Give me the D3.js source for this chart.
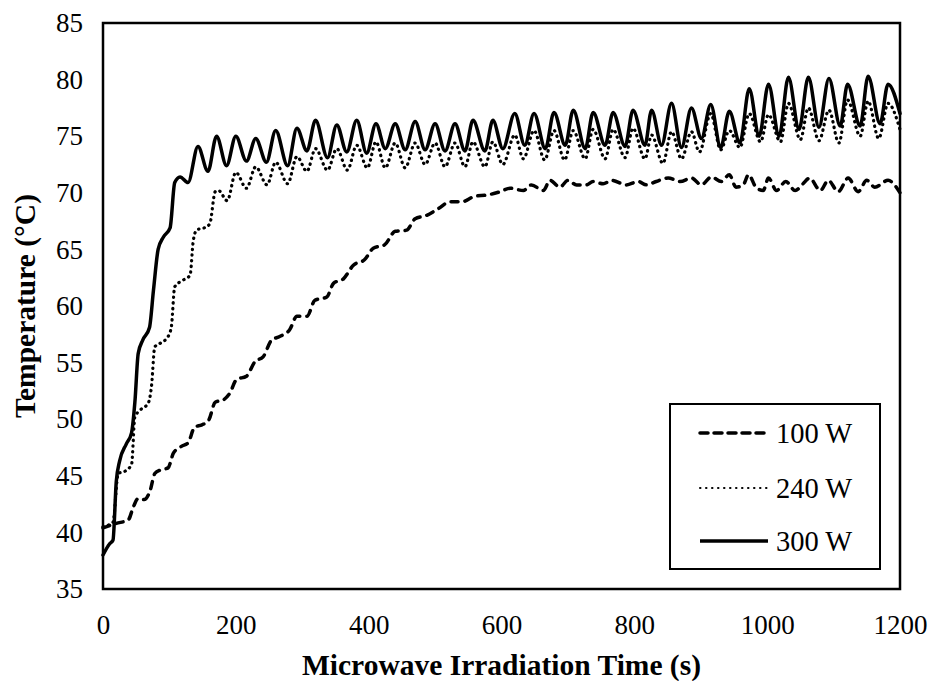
<!DOCTYPE html>
<html>
<head>
<meta charset="utf-8">
<script src="https://cdn.jsdelivr.net/npm/d3@7"></script>
<style>
  body { margin: 0; background: #fff; }
  svg text { font-family: "Liberation Serif", "Times New Roman", serif; fill: #000; }
</style>
</head>
<body>
<svg id="chart" width="931" height="681"></svg>
<script>
// temperature readings, [time (s), temperature (°C)]
const series100 = [
  [0, 40.4], [20, 40.8], [38, 41.1], [46, 42.3], [53, 43.0], [62, 42.9], [71, 43.7], [78, 45.2],
  [86, 45.5], [98, 45.7], [106, 47.0], [118, 47.6], [128, 47.9], [138, 49.3], [149, 49.5], [159, 49.9],
  [169, 51.5], [181, 51.7], [191, 52.3], [201, 53.5], [216, 53.8], [229, 55.1], [241, 55.5], [254, 57.0],
  [266, 57.3], [281, 57.9], [292, 59.1], [307, 59.1], [319, 60.5], [337, 60.8], [347, 62.0], [362, 62.4],
  [377, 63.6], [394, 64.1], [407, 65.1], [424, 65.4], [440, 66.6], [457, 66.7], [470, 67.7], [487, 68.0],
  [505, 68.6], [522, 69.2], [540, 69.2], [560, 69.7], [578, 69.8], [598, 70.1], [613, 70.4], [633, 70.2],
  [645, 70.7], [663, 70.2], [673, 71.1], [688, 70.5], [700, 71.1], [713, 70.7], [728, 70.7], [738, 71.0],
  [753, 70.8], [766, 71.1], [788, 70.7], [806, 71.0], [818, 70.7], [833, 71.0], [851, 71.3], [869, 71.0],
  [886, 71.3], [901, 70.7], [916, 71.4], [931, 71.0], [943, 71.6], [953, 70.5], [964, 70.7], [972, 71.6],
  [983, 70.5], [994, 70.2], [1002, 71.3], [1014, 70.2], [1028, 71.0], [1042, 70.2], [1054, 70.8], [1064, 71.3],
  [1080, 70.2], [1092, 71.1], [1107, 70.1], [1122, 71.3], [1137, 70.1], [1150, 71.1], [1162, 70.5], [1182, 71.1],
  [1200, 70.0]
];

const series240 = [
  [0, 40.5], [15, 40.9], [23, 45.2], [33, 45.4], [43, 46.0], [48, 50.2], [56, 50.8], [68, 51.4],
  [73, 52.9], [78, 56.4], [86, 56.7], [98, 57.3], [103, 58.2], [108, 61.7], [121, 62.3], [131, 62.7],
  [136, 65.8], [141, 66.7], [156, 67.0], [161, 67.3], [169, 70.1], [174, 70.2], [187, 69.3], [200, 71.8],
  [216, 70.4], [230, 72.3], [247, 70.7], [260, 72.7], [278, 70.8], [292, 73.2], [307, 71.9], [320, 73.9],
  [338, 72.0], [352, 73.9], [368, 72.0], [382, 74.2], [398, 72.2], [411, 74.5], [425, 72.2], [440, 74.4],
  [455, 72.2], [470, 74.4], [485, 72.5], [500, 74.4], [515, 72.3], [530, 74.4], [545, 72.3], [557, 74.5],
  [575, 72.3], [587, 74.5], [602, 72.5], [620, 75.1], [633, 73.0], [649, 75.5], [665, 72.9], [679, 75.5],
  [695, 72.9], [708, 75.5], [726, 73.0], [738, 75.6], [756, 73.0], [768, 75.6], [786, 73.1], [798, 75.7],
  [816, 73.0], [826, 75.1], [843, 72.6], [856, 75.4], [871, 73.0], [886, 75.4], [898, 73.6], [915, 77.0],
  [930, 73.8], [943, 75.5], [959, 74.0], [973, 77.0], [990, 74.5], [1002, 76.9], [1020, 74.5], [1032, 77.9],
  [1050, 74.7], [1062, 77.5], [1078, 74.6], [1093, 77.3], [1108, 74.4], [1121, 78.2], [1140, 75.0], [1152, 78.1],
  [1168, 74.8], [1182, 77.9], [1200, 75.6]
];

const series300 = [
  [0, 38.0], [10, 39.0], [15, 39.3], [20, 44.5], [25, 46.3], [35, 47.8], [43, 48.8], [48, 51.5],
  [53, 55.8], [60, 57.0], [70, 58.1], [76, 61.4], [83, 65.0], [91, 66.1], [101, 66.9], [108, 70.9],
  [116, 71.4], [128, 70.9], [143, 74.1], [158, 71.9], [171, 75.0], [186, 72.4], [200, 75.0], [216, 72.8],
  [230, 74.8], [246, 72.7], [260, 75.5], [278, 72.4], [292, 75.7], [307, 73.7], [320, 76.4], [338, 73.1],
  [352, 76.0], [367, 73.6], [382, 76.4], [397, 73.5], [411, 76.1], [425, 73.9], [440, 76.1], [455, 73.8],
  [470, 76.3], [485, 73.8], [500, 76.1], [515, 73.7], [530, 76.1], [545, 73.7], [557, 76.4], [575, 73.7],
  [587, 76.4], [602, 73.9], [620, 77.0], [635, 74.2], [649, 77.0], [666, 73.9], [679, 77.1], [696, 74.2],
  [708, 77.3], [726, 73.9], [738, 77.1], [756, 74.2], [768, 77.1], [786, 74.1], [798, 77.3], [816, 74.2],
  [826, 77.3], [841, 74.2], [856, 77.9], [871, 74.0], [886, 77.5], [901, 74.8], [915, 77.8], [930, 74.0],
  [943, 77.2], [959, 74.4], [973, 79.2], [988, 75.0], [1002, 79.6], [1018, 75.0], [1032, 80.2], [1048, 75.6],
  [1062, 80.2], [1078, 75.8], [1093, 80.1], [1110, 75.9], [1121, 79.6], [1140, 75.9], [1152, 80.3], [1170, 76.1],
  [1182, 79.6], [1200, 77.0]
];

const seriesNames = ['100 W', '240 W', '300 W'];
const xTicks = [0, 200, 400, 600, 800, 1000, 1200];
const yTicks = [35, 40, 45, 50, 55, 60, 65, 70, 75, 80, 85];

const styles = [
  { width: 3.5, dash: '7,7', cap: 'round' },
  { width: 3.2, dash: '0.4,5.2', cap: 'round' },
  { width: 3.5, dash: null, cap: 'round' }
];

const plotLeft = 103, plotRight = 900, plotTop = 23, plotBottom = 589;
const serif = '"Liberation Serif", "Times New Roman", serif';

const svg = d3.select('#chart');

const x = d3.scaleLinear().domain([0, 1200]).range([plotLeft, plotRight]);
const y = d3.scaleLinear().domain([35, 85]).range([plotBottom, plotTop]);

// tick labels only, Excel style (no tick marks)
const xAxis = svg.append('g')
    .attr('transform', `translate(0,${plotBottom})`)
    .call(d3.axisBottom(x).tickValues(xTicks).tickSize(0).tickPadding(26).tickFormat(d3.format('d')));
xAxis.select('.domain').remove();
xAxis.selectAll('text').attr('font-size', '27px').attr('font-family', serif).attr('fill', '#000');

const yAxis = svg.append('g')
    .attr('transform', `translate(${plotLeft},0)`)
    .call(d3.axisLeft(y).tickValues(yTicks).tickSize(0).tickPadding(20).tickFormat(d3.format('d')));
yAxis.select('.domain').remove();
yAxis.selectAll('text').attr('font-size', '27px').attr('font-family', serif).attr('fill', '#000');

const line = d3.line()
    .x(d => x(d[0]))
    .y(d => y(d[1]))
    .curve(d3.curveMonotoneX);

[series100, series240, series300].forEach((s, i) => {
  svg.append('path')
      .datum(s)
      .attr('fill', 'none')
      .attr('stroke', '#000')
      .attr('stroke-width', styles[i].width)
      .attr('stroke-linecap', styles[i].cap)
      .attr('stroke-linejoin', 'round')
      .attr('stroke-dasharray', styles[i].dash)
      .attr('d', line);
});

// plot frame
svg.append('rect')
    .attr('x', plotLeft).attr('y', plotTop)
    .attr('width', plotRight - plotLeft).attr('height', plotBottom - plotTop)
    .attr('fill', 'none').attr('stroke', '#000').attr('stroke-width', 2.5);

// legend
const legend = svg.append('g');
legend.append('rect')
    .attr('x', 670).attr('y', 404).attr('width', 210).attr('height', 165)
    .attr('fill', '#fff').attr('stroke', '#000').attr('stroke-width', 2);

const legendRows = [433, 488, 541];
seriesNames.forEach((name, i) => {
  legend.append('line')
      .attr('x1', 700).attr('x2', 768)
      .attr('y1', legendRows[i]).attr('y2', legendRows[i])
      .attr('stroke', '#000')
      .attr('stroke-width', i === 1 ? 2 : styles[i].width)
      .attr('stroke-linecap', i === 2 ? 'butt' : styles[i].cap)
      .attr('stroke-dasharray', i === 0 ? '8,6' : (i === 1 ? '0.5,5.5' : null));
  legend.append('text')
      .attr('x', 776).attr('y', legendRows[i])
      .attr('dy', '0.35em')
      .attr('font-size', '28.5px')
      .text(name);
});

// axis titles
svg.append('text')
    .attr('x', (plotLeft + plotRight) / 2).attr('y', 675)
    .attr('text-anchor', 'middle')
    .attr('font-size', '29.5px').attr('font-weight', 'bold')
    .text('Microwave Irradiation Time (s)');

svg.append('text')
    .attr('transform', `translate(35,${(plotTop + plotBottom) / 2}) rotate(-90)`)
    .attr('text-anchor', 'middle')
    .attr('font-size', '29.5px').attr('font-weight', 'bold')
    .text('Temperature (°C)');
</script>
</body>
</html>
